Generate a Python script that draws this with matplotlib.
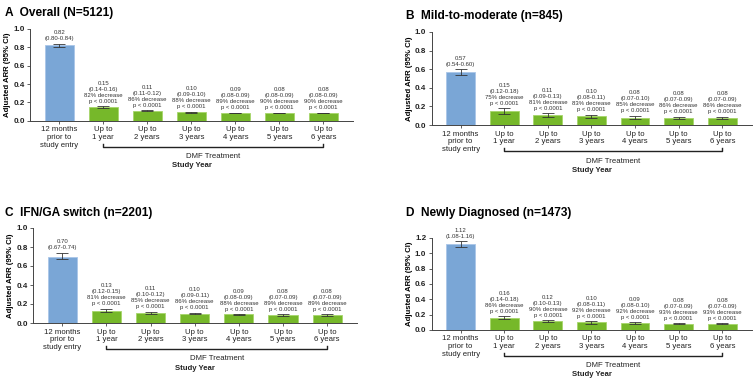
import numpy as np
import matplotlib
matplotlib.use('Agg')
from matplotlib import pyplot as plt
import matplotlib.transforms as mtrans

plt.rcParams['font.family'] = ['Liberation Sans', 'DejaVu Sans']

# categories (x tick labels)
cats = ['12 months\nprior to\nstudy entry', 'Up to\n1 year', 'Up to\n2 years', 'Up to\n3 years',
        'Up to\n4 years', 'Up to\n5 years', 'Up to\n6 years']

# panel titles
titles = ['A  Overall (N=5121)', 'B  Mild-to-moderate (n=845)',
          'C  IFN/GA switch (n=2201)', 'D  Newly Diagnosed (n=1473)']

# adjusted ARR and 95% CI per panel
arr_a = [0.82, 0.15, 0.11, 0.10, 0.09, 0.08, 0.08]
lo_a = [0.80, 0.14, 0.11, 0.09, 0.08, 0.08, 0.08]
hi_a = [0.84, 0.16, 0.12, 0.10, 0.09, 0.09, 0.09]
dec_a = [82, 86, 88, 89, 90, 90]

arr_b = [0.57, 0.15, 0.11, 0.10, 0.08, 0.08, 0.08]
lo_b = [0.54, 0.12, 0.09, 0.08, 0.07, 0.07, 0.07]
hi_b = [0.60, 0.18, 0.13, 0.11, 0.10, 0.09, 0.09]
dec_b = [75, 81, 83, 85, 86, 86]

arr_c = [0.70, 0.13, 0.11, 0.10, 0.09, 0.08, 0.08]
lo_c = [0.67, 0.12, 0.10, 0.09, 0.08, 0.07, 0.07]
hi_c = [0.74, 0.15, 0.12, 0.11, 0.09, 0.09, 0.09]
dec_c = [81, 85, 86, 88, 89, 89]

arr_d = [1.12, 0.16, 0.12, 0.10, 0.09, 0.08, 0.08]
lo_d = [1.08, 0.14, 0.10, 0.08, 0.08, 0.07, 0.07]
hi_d = [1.16, 0.18, 0.13, 0.11, 0.10, 0.09, 0.09]
dec_d = [86, 90, 92, 92, 93, 93]

ymax = [1.0, 1.0, 1.0, 1.2]
yticks = [np.arange(0, 1.01, 0.2), np.arange(0, 1.01, 0.2),
          np.arange(0, 1.01, 0.2), np.arange(0, 1.21, 0.2)]

# axes positions [left, bottom, width, height]
pos = [[0.040, 0.682, 0.428, 0.242],
       [0.572, 0.671, 0.424, 0.245],
       [0.044, 0.150, 0.429, 0.250],
       [0.572, 0.132, 0.424, 0.242]]
title_pos = [(0.006, 0.967), (0.538, 0.958), (0.006, 0.44), (0.538, 0.44)]

blue = '#7aa6d6'
green = '#76b82a'
txt_col = '#333333'

fig = plt.figure(figsize=(7.55, 3.8), dpi=100)

data = [(arr_a, lo_a, hi_a, dec_a), (arr_b, lo_b, hi_b, dec_b),
        (arr_c, lo_c, hi_c, dec_c), (arr_d, lo_d, hi_d, dec_d)]

for i, (arr, lo, hi, dec) in enumerate(data):
    ax = fig.add_axes(pos[i])
    x = np.arange(len(cats))
    arr = np.array(arr)
    lo = np.array(lo)
    hi = np.array(hi)
    cols = [blue] + [green] * 6
    edges = ['#a9c6e8'] + ['#a6d66a'] * 6
    ax.bar(x, arr, width=0.66, color=cols, edgecolor=edges, linewidth=0.6, zorder=2)
    ax.errorbar(x, arr, yerr=[arr - lo, hi - arr], fmt='none', ecolor='#333333',
                elinewidth=0.6, capsize=4, capthick=0.6, zorder=3)
    off = ymax[i] * 0.025
    for j in range(len(cats)):
        if j == 0:
            s = f'{arr[j]:.2f}\n({lo[j]:.2f}-{hi[j]:.2f})'
        else:
            s = (f'{arr[j]:.2f}\n({lo[j]:.2f}-{hi[j]:.2f})\n'
                 f'{dec[j-1]}% decrease\np < 0.0001')
        ax.text(x[j], hi[j] + off, s, ha='center', va='bottom', fontsize=4.3,
                color=txt_col, linespacing=1.25)

    ax.set_xlim(-0.66, 6.68)
    ax.set_ylim(0, ymax[i])
    ax.set_yticks(yticks[i])
    ax.set_yticklabels([f'{v:.1f}' for v in yticks[i]], fontsize=5.8, fontweight='bold',
                       color='#222222')
    ax.set_xticks(x)
    ax.set_xticklabels(cats, fontsize=5.6, color='#222222', linespacing=1.15)
    ax.tick_params(axis='both', length=2.5, width=0.6, color='#444444', pad=1.5)
    for sp in ['top', 'right']:
        ax.spines[sp].set_visible(False)
    for sp in ['left', 'bottom']:
        ax.spines[sp].set_linewidth(0.7)
        ax.spines[sp].set_color('#444444')
    ax.set_ylabel('Adjusted ARR (95% CI)', fontsize=5.6, fontweight='bold', labelpad=1.5)

    # bracket under DMF treatment years, offsets in pixels below the axis
    h_px = pos[i][3] * 380
    tr = mtrans.blended_transform_factory(ax.transData, ax.transAxes)
    yb = -26 / h_px
    tick = 3 / h_px
    ax.plot([1, 1, 6, 6], [yb + tick, yb, yb, yb + tick], color='#222222', lw=1.0,
            transform=tr, clip_on=False)
    ax.text(3.5, -36 / h_px, 'DMF Treatment', transform=tr, ha='center', va='center',
            fontsize=5.6, color='#222222')
    ax.text(0.5, -45 / h_px, 'Study Year', transform=ax.transAxes, ha='center',
            va='center', fontsize=5.6, fontweight='bold', color='#222222')

    fig.text(title_pos[i][0], title_pos[i][1], titles[i], fontsize=8.6, fontweight='bold',
             ha='left', va='center')

fig.savefig('out.png', dpi=100)
